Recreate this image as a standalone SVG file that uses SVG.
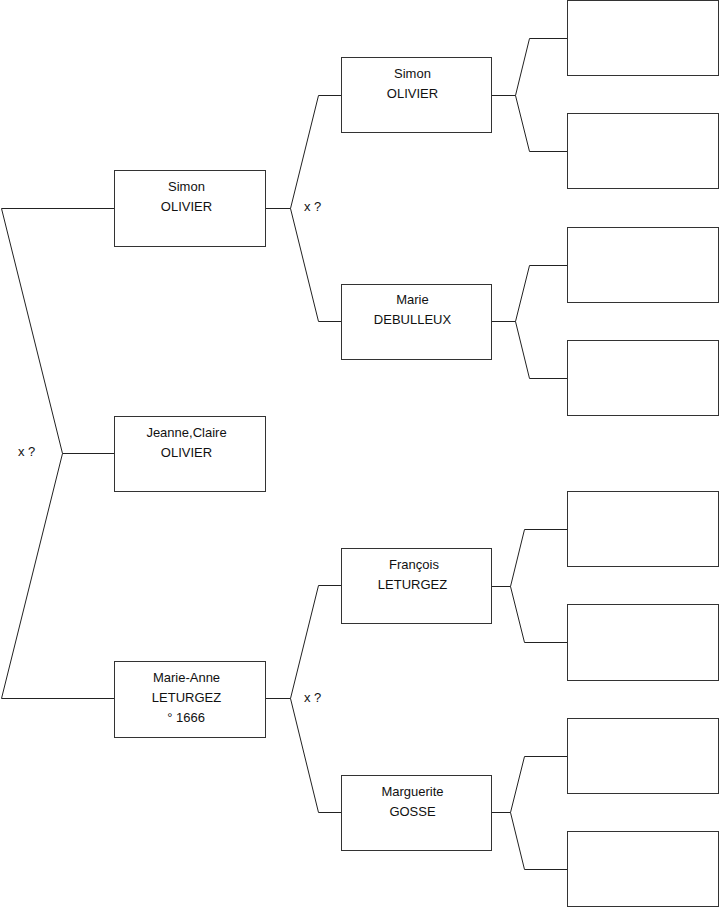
<svg xmlns="http://www.w3.org/2000/svg" width="719" height="908" viewBox="0 0 719 908">
<style>
.box{fill:#fff;stroke:#333;stroke-width:1}
.ln{fill:none;stroke:#222;stroke-width:1}
text{font-family:"Liberation Sans",Arial,sans-serif;font-size:13px;fill:#111}
.c{text-anchor:middle}
</style>
<rect width="719" height="908" fill="#fff"/>
<g id="connectors">
<polyline class="ln" points="114,208.5 1.5,208.5 62.5,453.5 1.5,698.5 114,698.5"/>
<line class="ln" x1="62.5" y1="453.5" x2="114" y2="453.5"/>
<polyline class="ln" points="341,95.5 318.5,95.5 290.5,208.5 318.5,321.5 341,321.5"/>
<line class="ln" x1="265" y1="208.5" x2="290.5" y2="208.5"/>
<polyline class="ln" points="341,585.5 318.5,585.5 290.5,698.5 318.5,812.5 341,812.5"/>
<line class="ln" x1="265" y1="698.5" x2="290.5" y2="698.5"/>
<polyline class="ln" points="567,38.5 529.5,38.5 515.5,95.5 529.5,151.5 567,151.5"/>
<line class="ln" x1="491" y1="95.5" x2="515.5" y2="95.5"/>
<polyline class="ln" points="567,265.5 529.5,265.5 515.5,321.5 529.5,378.5 567,378.5"/>
<line class="ln" x1="491" y1="321.5" x2="515.5" y2="321.5"/>
<polyline class="ln" points="567,529.5 524.5,529.5 510.5,586.5 524.5,642.5 567,642.5"/>
<line class="ln" x1="491" y1="586.5" x2="510.5" y2="586.5"/>
<polyline class="ln" points="567,756.5 524.5,756.5 510.5,812.5 524.5,869.5 567,869.5"/>
<line class="ln" x1="491" y1="812.5" x2="510.5" y2="812.5"/>
<text x="18" y="456">x ?</text>
<text x="304" y="211">x ?</text>
<text x="304" y="702">x ?</text>
</g>
<g id="n-simon1"><rect class="box" x="114.5" y="170.5" width="151" height="76"/><text class="c" x="186.5" y="191">Simon</text><text class="c" x="186.5" y="211">OLIVIER</text></g>
<g id="n-jeanne"><rect class="box" x="114.5" y="416.5" width="151" height="75"/><text class="c" x="186.5" y="437">Jeanne,Claire</text><text class="c" x="186.5" y="457">OLIVIER</text></g>
<g id="n-marieanne"><rect class="box" x="114.5" y="661.5" width="151" height="76"/><text class="c" x="186.5" y="682">Marie-Anne</text><text class="c" x="186.5" y="702">LETURGEZ</text><text class="c" x="186" y="722">° 1666</text></g>
<g id="n-simon2"><rect class="box" x="341.5" y="57.5" width="150" height="75"/><text class="c" x="412.5" y="78">Simon</text><text class="c" x="412.5" y="98">OLIVIER</text></g>
<g id="n-marie"><rect class="box" x="341.5" y="284.5" width="150" height="75"/><text class="c" x="412.5" y="304">Marie</text><text class="c" x="412.5" y="324">DEBULLEUX</text></g>
<g id="n-francois"><rect class="box" x="341.5" y="548.5" width="150" height="75"/><text class="c" x="414" y="569">François</text><text class="c" x="412.5" y="589">LETURGEZ</text></g>
<g id="n-marguerite"><rect class="box" x="341.5" y="775.5" width="150" height="75"/><text class="c" x="412.5" y="796">Marguerite</text><text class="c" x="412.5" y="816">GOSSE</text></g>
<g id="n-g3-1"><rect class="box" x="567.5" y="0.5" width="151" height="75"/></g>
<g id="n-g3-2"><rect class="box" x="567.5" y="113.5" width="151" height="75"/></g>
<g id="n-g3-3"><rect class="box" x="567.5" y="227.5" width="151" height="75"/></g>
<g id="n-g3-4"><rect class="box" x="567.5" y="340.5" width="151" height="75"/></g>
<g id="n-g3-5"><rect class="box" x="567.5" y="491.5" width="151" height="75"/></g>
<g id="n-g3-6"><rect class="box" x="567.5" y="604.5" width="151" height="76"/></g>
<g id="n-g3-7"><rect class="box" x="567.5" y="718.5" width="151" height="75"/></g>
<g id="n-g3-8"><rect class="box" x="567.5" y="831.5" width="151" height="75"/></g>
</svg>
